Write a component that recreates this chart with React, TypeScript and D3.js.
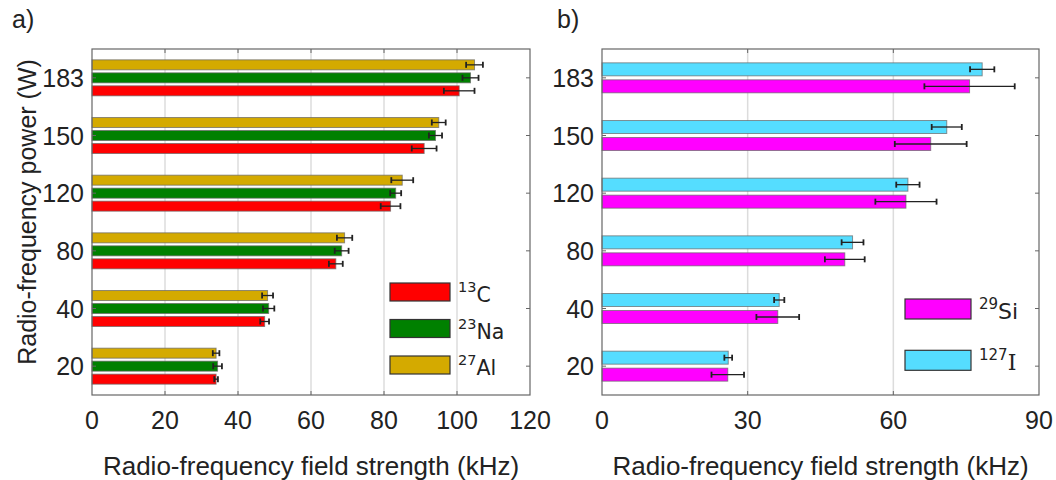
import React from 'react';
import * as d3 from 'd3';

// power levels (W), top to bottom
const powerLevels = ['183', '150', '120', '80', '40', '20'];

// panel a) field strength (kHz) and error
const al27 = [104.8, 95.0, 85.0, 69.2, 48.1, 34.0];
const al27Err = [2.3, 1.9, 3.0, 2.1, 1.5, 0.9];
const na23 = [103.7, 94.1, 83.2, 68.4, 48.4, 34.4];
const na23Err = [2.2, 1.8, 1.5, 1.9, 1.55, 1.2];
const c13 = [100.6, 91.0, 81.8, 66.8, 47.3, 34.0];
const c13Err = [4.2, 3.4, 2.7, 1.9, 1.2, 0.5];

// panel b)
const i127 = [78.3, 71.0, 63.0, 51.6, 36.5, 26.0];
const i127Err = [2.5, 3.1, 2.4, 2.25, 1.05, 0.8];
const si29 = [75.7, 67.7, 62.6, 50.0, 36.2, 25.9];
const si29Err = [9.3, 7.4, 6.3, 4.1, 4.4, 3.35];

const ticksA = [0, 20, 40, 60, 80, 100, 120];
const ticksB = [0, 30, 60, 90];

interface Series {
  key: string;
  sup: string;
  sym: string;
  color: string;
  values: number[];
  errors: number[];
}

const seriesA: Series[] = [
  { key: 'al', sup: '27', sym: 'Al', color: '#d4aa00', values: al27, errors: al27Err },
  { key: 'na', sup: '23', sym: 'Na', color: '#008000', values: na23, errors: na23Err },
  { key: 'c', sup: '13', sym: 'C', color: '#ff0000', values: c13, errors: c13Err },
];
const legendA = ['c', 'na', 'al'];

const seriesB: Series[] = [
  { key: 'i', sup: '127', sym: 'I', color: '#55ddff', values: i127, errors: i127Err },
  { key: 'si', sup: '29', sym: 'Si', color: '#ff00ff', values: si29, errors: si29Err },
];
const legendB = ['si', 'i'];

const FONT = '"Liberation Sans", Arial, sans-serif';
const top = 49;
const bottom = 395;

interface PanelProps {
  left: number;
  right: number;
  max: number;
  ticks: number[];
  series: Series[];
  groupFrac: number;
  innerPad: number;
  legendOrder: string[];
  legend: { x: number; y0: number; dy: number; w: number; h: number; fs: number; sfs: number };
  label: string;
  labelX: number;
  yTitle?: boolean;
}

const Panel: React.FC<PanelProps> = ({ left, right, max, ticks, series, groupFrac, innerPad, legendOrder, legend, label, labelX, yTitle }) => {
  const x = d3.scaleLinear().domain([0, max]).range([left, right]);
  const y = d3.scaleBand<string>().domain(powerLevels).range([top, bottom]).padding(0);
  const half = (y.bandwidth() * groupFrac) / 2;
  const inner = d3.scaleBand<string>()
    .domain(series.map(s => s.key))
    .range([-half, half])
    .paddingInner(innerPad)
    .paddingOuter(0);
  const bw = inner.bandwidth();

  return (
    <g>
      <text x={labelX} y={28} fontFamily={FONT} fontSize={25} fill="#222">{label}</text>
      {/* grid */}
      {ticks.slice(1, -1).map(t => (
        <line key={'g' + t} x1={x(t)} x2={x(t)} y1={top} y2={bottom} stroke="#dcdcdc" strokeWidth={1.5} />
      ))}
      {/* bars */}
      {series.map(s => powerLevels.map((p, i) => {
        const yc = y(p)! + y.bandwidth() / 2 + inner(s.key)!;
        return (
          <rect key={s.key + p} x={x(0)} y={yc} width={x(s.values[i]) - x(0)} height={bw}
            fill={s.color} stroke="#666" strokeOpacity={0.7} strokeWidth={1} />
        );
      }))}
      {/* error bars */}
      {series.map(s => powerLevels.map((p, i) => {
        const yc = y(p)! + y.bandwidth() / 2 + inner(s.key)! + bw / 2;
        const lo = x(s.values[i] - s.errors[i]);
        const hi = x(s.values[i] + s.errors[i]);
        return (
          <g key={'e' + s.key + p} stroke="#222" strokeWidth={1.3}>
            <line x1={lo} x2={hi} y1={yc} y2={yc} />
            <line x1={lo} x2={lo} y1={yc - 3} y2={yc + 3} strokeWidth={1.8} />
            <line x1={hi} x2={hi} y1={yc - 3} y2={yc + 3} strokeWidth={1.8} />
          </g>
        );
      }))}
      {/* box and inward ticks */}
      <rect x={left} y={top} width={right - left} height={bottom - top} fill="none" stroke="#666" strokeWidth={1.2} />
      {ticks.slice(1, -1).map(t => (
        <g key={'t' + t} stroke="#666" strokeWidth={1}>
          <line x1={x(t)} x2={x(t)} y1={top} y2={top + 4} />
          <line x1={x(t)} x2={x(t)} y1={bottom} y2={bottom - 4} />
        </g>
      ))}
      {powerLevels.map(p => {
        const yc = y(p)! + y.bandwidth() / 2;
        return (
          <g key={'yt' + p}>
            <line x1={left} x2={left + 4} y1={yc} y2={yc} stroke="#666" strokeWidth={1} />
            <line x1={right} x2={right - 4} y1={yc} y2={yc} stroke="#666" strokeWidth={1} />
            <text x={left - 8} y={yc} textAnchor="end" dominantBaseline="central"
              fontFamily={FONT} fontSize={25} fill="#222">{p}</text>
          </g>
        );
      })}
      {ticks.map(t => (
        <text key={'xl' + t} x={x(t)} y={429} textAnchor="middle" fontFamily={FONT} fontSize={25} fill="#222">{t}</text>
      ))}
      <text x={(left + right) / 2} y={475} textAnchor="middle" fontFamily={FONT} fontSize={26} fill="#222">
        Radio-frequency field strength (kHz)
      </text>
      {yTitle && (
        <text transform={`translate(36, ${(top + bottom) / 2 - 10}) rotate(-90)`} textAnchor="middle"
          fontFamily={FONT} fontSize={25} fill="#222">Radio-frequency power (W)</text>
      )}
      {/* legend */}
      {legendOrder.map((k, i) => {
        const s = series.find(d => d.key === k)!;
        const yy = legend.y0 + i * legend.dy;
        return (
          <g key={'lg' + k}>
            <rect x={legend.x} y={yy} width={legend.w} height={legend.h} fill={s.color} stroke="#333" strokeWidth={1.2} />
            <text x={legend.x + legend.w + 8} y={yy + legend.h / 2 + 10} fontFamily='"DejaVu Sans", sans-serif'
              fontSize={legend.fs} fill="#222">
              <tspan fontSize={legend.sfs} dy={-10}>{s.sup}</tspan>
              <tspan dy={10} fontFamily={s.sym === 'I' ? '"DejaVu Serif", serif' : undefined}>{s.sym}</tspan>
            </text>
          </g>
        );
      })}
    </g>
  );
};

const App: React.FC = () => (
  <svg width={1056} height={480} style={{ position: 'absolute', left: 0, top: 0, background: '#fff' }}>
    <Panel left={92} right={530} max={120} ticks={ticksA} series={seriesA} groupFrac={0.624} innerPad={0.23}
      legendOrder={legendA} legend={{ x: 390, y0: 283, dy: 36.5, w: 60, h: 18, fs: 20.5, sfs: 14.5 }}
      label="a)" labelX={12} yTitle />
    <Panel left={602} right={1039} max={90} ticks={ticksB} series={seriesB} groupFrac={0.52} innerPad={0.235}
      legendOrder={legendB} legend={{ x: 905, y0: 299, dy: 51.3, w: 66, h: 20, fs: 22, sfs: 15 }}
      label="b)" labelX={557} />
  </svg>
);

export default App;
